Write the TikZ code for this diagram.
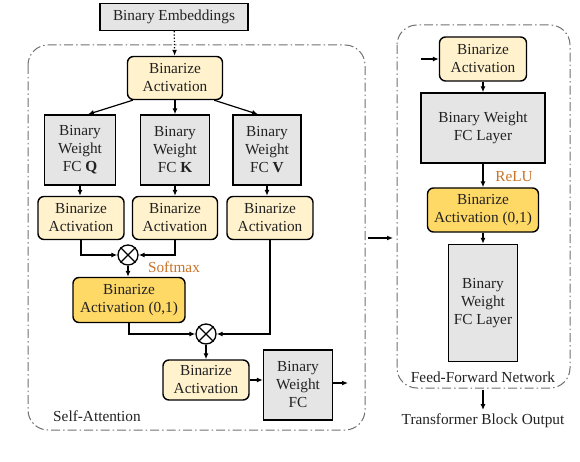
\documentclass[tikz,border=0pt]{standalone}
\usepackage{fontspec}
\setmainfont{Liberation Serif}
\usetikzlibrary{arrows.meta, positioning, shapes.misc, calc}

\definecolor{actfill}{HTML}{FFF2CC}
\definecolor{actdark}{HTML}{FFD966}
\definecolor{wfill}{HTML}{E5E5E5}
\definecolor{labelorange}{HTML}{C8732A}
\definecolor{framegray}{HTML}{707070}
\definecolor{textgray}{HTML}{222222}

\tikzset{
  act/.style={draw, rounded corners=6pt, fill=actfill, align=center, inner sep=0pt, line width=1.4pt},
  actzo/.style={act, fill=actdark},
  wbox/.style={draw, fill=wfill, align=center, inner sep=0pt, line width=1.4pt},
  prod/.style={draw, circle, minimum size=20pt, inner sep=0pt, line width=1.3pt},
  frame/.style={draw=framegray, line width=1pt, rounded corners=20pt,
    dash pattern=on 9pt off 3pt on 1.5pt off 3pt},
}

\begin{document}
\begin{tikzpicture}[x=1pt, y=-1pt, font=\fontsize{15.3}{18}\selectfont, text=textgray,
    >={Latex[length=6pt,width=5pt]}, line width=1.2pt]
    \useasboundingbox (0,0) rectangle (580,462);

    % frames
    \draw[frame] (28,45) rectangle (365,430);
    \draw[frame] (397,25) rectangle (570,388);
    \node (salabel) at (97,416) {Self-Attention};
    \node (fflabel) at (483,377) {Feed-Forward Network};

    % self-attention
    \node[wbox, minimum width=148pt, minimum height=27pt] (emb) at (174,17) {Binary Embeddings};
    \node[act, minimum width=95pt, minimum height=43pt] (topba) at (175,78) {Binarize\\Activation};

    \node[wbox, minimum width=71pt, minimum height=70pt] (fcq) at (80,150) {Binary\\Weight\\FC \textbf{Q}};
    \node[wbox, minimum width=69pt, minimum height=70pt] (fck) at (175,150) {Binary\\Weight\\FC \textbf{K}};
    \node[wbox, minimum width=68pt, minimum height=70pt] (fcv) at (267,150) {Binary\\Weight\\FC \textbf{V}};

    \node[act, minimum width=86pt, minimum height=43pt] (baq) at (81,218) {Binarize\\Activation};
    \node[act, minimum width=85pt, minimum height=43pt] (bak) at (175,218) {Binarize\\Activation};
    \node[act, minimum width=86pt, minimum height=43pt] (bav) at (270,218) {Binarize\\Activation};

    \node[prod] (mul1) at (128,255) {};
    \draw[line width=1.3pt] (mul1.north west) -- (mul1.south east) (mul1.north east) -- (mul1.south west);
    \node[text=labelorange] (softmax) at (174,267) {Softmax};

    \node[actzo, minimum width=112pt, minimum height=45pt] (bazo) at (129,300) {Binarize\\Activation (0,1)};

    \node[prod] (mul2) at (206,334) {};
    \draw[line width=1.3pt] (mul2.north west) -- (mul2.south east) (mul2.north east) -- (mul2.south west);

    \node[act, minimum width=86pt, minimum height=40pt] (baout) at (206,380) {Binarize\\Activation};
    \node[wbox, minimum width=69pt, minimum height=70pt] (fcout) at (298,385) {Binary\\Weight\\FC};
    \coordinate (saout) at (348,383);

    \draw[->, dotted] (emb) -- (topba);
    \draw[->] ([xshift=6pt]topba.south west) -- ([xshift=8pt]fcq.north);
    \draw[->] (topba) -- (fck);
    \draw[->] ([xshift=-9pt]topba.south east) -- ([xshift=-9pt]fcv.north);
    \draw[->] (fcq.south) -- (fcq.south |- baq.north);
    \draw[->] (fck) -- (bak);
    \draw[->] (fcv) -- (fcv |- bav.north);
    \draw[->] (baq.south) |- (mul1.west);
    \draw[->] (bak.south) |- (mul1.east);
    \draw[->] (mul1) -- (mul1 |- bazo.north);
    \draw[->] (bazo.south) |- (mul2.west);
    \draw[->] (bav.south) |- (mul2.east);
    \draw[->] (mul2) -- (baout);
    \draw[->] (baout) -- (baout -| fcout.west);
    \draw[->] (fcout.east |- saout) -- (saout);

    % link between blocks
    \coordinate (linka) at (368,238);
    \coordinate (linkb) at (393,238);
    \draw[->] (linka) -- (linkb);

    % feed-forward network
    \node[act, minimum width=87pt, minimum height=44pt] (ffba) at (483,59) {Binarize\\Activation};
    \coordinate (ffin) at (421,59);
    \node[wbox, minimum width=124pt, minimum height=70pt] (fc1) at (483,128) {Binary Weight\\FC Layer};
    \node[actzo, minimum width=111pt, minimum height=44pt] (ffzo) at (483,210) {Binarize\\Activation (0,1)};
    \node[text=labelorange] (relu) at (514,177) {ReLU};
    \node[wbox, minimum width=69pt, minimum height=117pt] (fc2) at (483,303) {Binary\\Weight\\FC Layer};
    \node (blockout) at (483,421) {Transformer Block Output};
    \coordinate (ffbot) at (483,390);

    \draw[->] (ffin) -- (ffba);
    \draw[->] (ffba) -- (fc1);
    \draw[->] (fc1) -- (ffzo);
    \draw[->] (ffzo) -- (fc2);
    \draw[->] (ffbot) -- (blockout);
\end{tikzpicture}
\end{document}
